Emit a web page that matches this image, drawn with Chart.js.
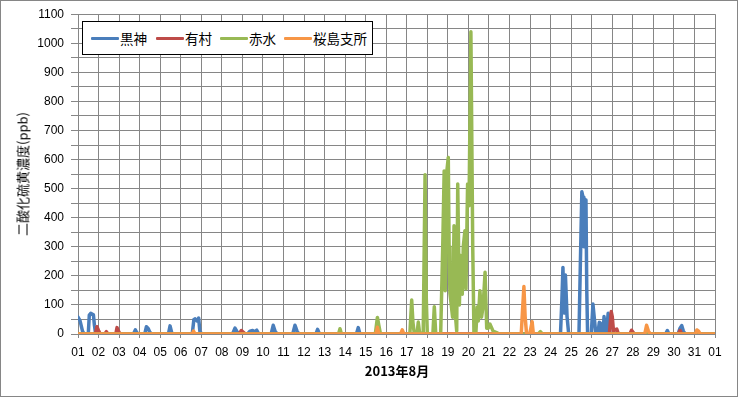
<!DOCTYPE html>
<html>
<head>
<meta charset="utf-8">
<script src="https://cdn.jsdelivr.net/npm/chart.js@4.4.1/dist/chart.umd.min.js"></script>
<style>
  html, body { margin: 0; padding: 0; background: #fff; }
  #wrap { position: relative; width: 738px; height: 397px; overflow: hidden; background: #fff; }
  #c { position: absolute; left: 0; top: 0; }
  #frame { position: absolute; left: 0; top: 0; width: 738px; height: 397px; box-sizing: border-box; border: 1px solid #868686; pointer-events: none; }
  #legend { position: absolute; left: 82px; top: 21px; width: 291px; height: 34px; box-sizing: border-box; border: 1px solid #000; background: #fff;
            font-family: "Noto Sans CJK JP", sans-serif; font-size: 13.5px; color: #000; }
  .item { position: absolute; top: 0; height: 32px; display: flex; align-items: center; white-space: nowrap; }
  .swatch { width: 28px; height: 3px; margin-right: 1px; border-radius: 1px; flex-shrink: 0; }
  .item span { white-space: nowrap; flex-shrink: 0; }
  #ytitle { position: absolute; left: 22px; top: 174px; transform: translate(-50%, -50%) rotate(-90deg); white-space: nowrap;
            font-family: "Noto Sans CJK JP", sans-serif; font-size: 13px; color: #000; }
  #xtitle { position: absolute; left: 397px; top: 370px; transform: translate(-50%, -50%); white-space: nowrap;
            font-family: "Noto Sans CJK JP", sans-serif; font-size: 13px; font-weight: bold; color: #000; }
</style>
</head>
<body>
<div id="wrap">
  <canvas id="c" width="738" height="397"></canvas>
  <div id="legend"></div>
  <div id="ytitle"></div>
  <div id="xtitle"></div>
  <div id="frame"></div>
</div>
<script>
// ---- data (time in days from 2013-08-01 00:00, value in ppb) ----
const seriesNames = ['黒神', '有村', '赤水', '桜島支所'];
const seriesColors = ['#4A7EBB', '#BE4B48', '#98B954', '#F79646'];
const xTickLabels = ['01','02','03','04','05','06','07','08','09','10','11','12','13','14','15','16',
                     '17','18','19','20','21','22','23','24','25','26','27','28','29','30','31','01'];
const yAxisTitle = '二酸化硫黄濃度(ppb)';
const xAxisTitle = '2013年8月';

const kurokami = [[0,58],[0.1,45],[0.22,10],[0.3,0],[0.5,0],[0.55,65],[0.62,71],[0.75,66],[0.8,30],[0.86,0],
  [2.7,0],[2.79,14],[2.86,5],[2.95,0],[3.25,0],[3.33,25],[3.42,18],[3.5,5],[3.6,0],
  [4.4,0],[4.48,28],[4.56,5],[4.62,0],[5.56,0],[5.64,50],[5.7,52],[5.8,45],[5.87,55],[5.93,10],[6.02,0],
  [7.52,0],[7.64,20],[7.74,8],[7.85,0],[8.25,0],[8.37,10],[8.5,12],[8.6,8],[8.7,13],[8.8,0],
  [9.4,0],[9.5,30],[9.6,8],[9.7,0],[10.45,0],[10.56,30],[10.66,10],[10.75,0],[11.58,0],[11.66,16],[11.75,0],
  [13.55,0],[13.64,22],[13.72,0],[14.5,0],[14.58,15],[14.66,0],
  [23.48,0],[23.55,120],[23.6,229],[23.65,72],[23.72,203],[23.8,60],[23.88,0],
  [24.38,0],[24.45,250],[24.52,489],[24.58,470],[24.62,300],[24.67,440],[24.72,461],[24.76,150],[24.8,0],
  [24.98,0],[25.06,103],[25.12,60],[25.2,0],[25.3,0],[25.37,40],[25.42,38],[25.5,0],
  [25.55,0],[25.6,60],[25.65,20],[25.72,5],[25.8,71],[25.85,20],[25.9,0],
  [28.6,0],[28.68,12],[28.76,0],[29.2,0],[29.3,20],[29.38,29],[29.46,10],[29.55,0],[31,0]];

const arimura = [[0,0],[0.85,0],[0.92,25],[1.0,12],[1.08,0],[1.3,0],[1.38,8],[1.46,0],[1.84,0],[1.9,22],[1.97,10],[2.05,0],
  [7.85,0],[7.95,12],[8.05,6],[8.15,0],[25.86,0],[25.95,77],[26.0,60],[26.06,10],[26.15,15],[26.22,17],[26.3,0],
  [26.86,0],[26.94,13],[27.02,5],[27.1,0],[29.22,0],[29.3,12],[29.38,0],[31,0]];

const akamizu = [[0,0],[12.68,0],[12.75,18],[12.82,0],[14.47,0],[14.57,57],[14.64,30],[14.72,0],
  [16.15,0],[16.24,117],[16.3,40],[16.36,5],[16.5,0],[16.56,41],[16.62,5],[16.8,0],[16.89,548],[16.95,120],[17.0,0],
  [17.27,0],[17.34,94],[17.41,0],[17.65,0],[17.75,300],[17.82,561],[17.87,149],[17.95,560],[18.02,607],[18.06,300],
  [18.1,140],[18.23,58],[18.3,372],[18.35,80],[18.43,10],[18.48,516],[18.56,100],[18.62,270],[18.7,137],[18.75,300],
  [18.83,355],[18.88,155],[18.96,516],[19.03,441],[19.12,1040],[19.21,300],[19.27,0],[19.36,0],[19.43,93],[19.48,45],
  [19.56,149],[19.64,58],[19.72,100],[19.81,212],[19.89,20],[19.97,20],[20.05,34],[20.2,10],[20.37,5],[20.5,0],
  [22.4,0],[22.5,8],[22.6,0],[27.6,0],[27.68,15],[27.76,0],[31,0]];

const sakurajima = [[0,0],[5.56,0],[5.62,10],[5.7,0],[14.5,0],[14.57,23],[14.64,0],[15.7,0],[15.78,14],[15.86,0],
  [21.57,0],[21.64,90],[21.7,163],[21.76,60],[21.83,0],[21.98,0],[22.04,20],[22.1,42],[22.16,0],
  [27.58,0],[27.67,30],[27.76,10],[27.85,0],[30.05,0],[30.12,14],[30.2,10],[30.28,0],[31,0]];

const seriesData = [kurokami, arimura, akamizu, sakurajima];
const legendOffsets = [8, 73, 137, 201];

// ---- titles & legend (HTML text) ----
document.getElementById('ytitle').textContent = yAxisTitle;
document.getElementById('xtitle').textContent = xAxisTitle;
const lg = document.getElementById('legend');
seriesNames.forEach((n, i) => {
  const it = document.createElement('div'); it.className = 'item'; it.style.left = legendOffsets[i] + 'px';
  const sw = document.createElement('div'); sw.className = 'swatch'; sw.style.background = seriesColors[i];
  const tx = document.createElement('span'); tx.textContent = n;
  it.appendChild(sw); it.appendChild(tx); lg.appendChild(it);
});

const datasets = seriesNames.map((n, i) => ({
  label: n,
  data: seriesData[i].map(p => ({ x: p[0], y: p[1] })),
  borderColor: seriesColors[i],
  backgroundColor: seriesColors[i],
  borderWidth: 3.5,
  pointRadius: 0,
  tension: 0,
  borderJoinStyle: 'round',
  borderCapStyle: 'round',
  order: seriesNames.length - i
}));

const tickFont = { family: '"Liberation Sans", Arial, sans-serif', size: 12 };
new Chart(document.getElementById('c'), {
  type: 'line',
  data: { datasets },
  options: {
    responsive: false,
    animation: false,
    devicePixelRatio: 1,
    layout: { padding: { left: 0, right: 23, top: 14, bottom: 0 } },
    plugins: { legend: { display: false }, tooltip: { enabled: false } },
    scales: {
      x: {
        type: 'linear', min: 0, max: 31,
        afterFit: s => { s.height = 63; },
        ticks: { stepSize: 1, autoSkip: false, maxRotation: 0, padding: 7, color: '#000', font: tickFont,
                 callback: v => xTickLabels[Math.round(v)] },
        grid: { color: '#868686', lineWidth: 1, tickLength: 4 },
        border: { color: '#868686' }
      },
      y: {
        min: 0, max: 1100,
        afterFit: s => { s.width = 78; },
        ticks: { stepSize: 50, autoSkip: false, padding: 7, color: '#000', font: tickFont,
                 callback: v => (v % 100 === 0 ? String(v) : '') },
        grid: { color: '#868686', lineWidth: 1, tickLength: 7 },
        border: { color: '#868686' }
      }
    }
  }
});
</script>
</body>
</html>
